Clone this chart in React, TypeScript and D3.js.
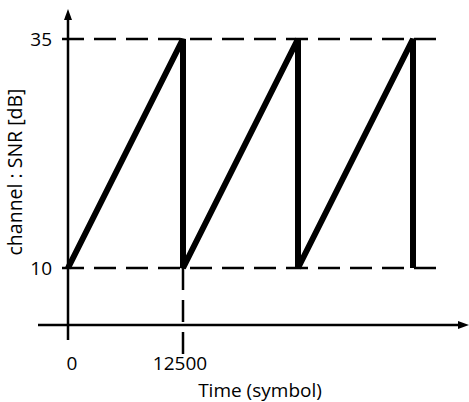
import { useRef, useEffect } from "react";
import * as d3 from "d3";

// sawtooth: time (symbols) vs channel SNR (dB)
const sawTime = [0, 12500, 12500, 25000, 25000, 37500, 37500];
const sawSNR = [10, 35, 10, 35, 10, 35, 10];

const yTicks = [10, 35];
const xTicks = [0, 12500];
const xTickLabels = ["0", "12500"];

const xLabel = "Time (symbol)";
const yLabel = "channel : SNR [dB]";

export default function App() {
  const ref = useRef<SVGSVGElement | null>(null);

  useEffect(() => {
    const svg = d3.select(ref.current);
    svg.selectAll("*").remove();

    const font = "'Open Sans', 'DejaVu Sans', sans-serif";

    const x = d3.scaleLinear().domain([0, 12500]).range([68, 183]);
    const y = d3.scaleLinear().domain([10, 35]).range([268, 39]);

    const x0 = x(0);
    const xAxisY = 325;

    // dashed reference lines
    svg
      .selectAll("line.ref")
      .data(yTicks)
      .enter()
      .append("line")
      .attr("class", "ref")
      .attr("x1", 62)
      .attr("x2", 437)
      .attr("y1", (d) => y(d))
      .attr("y2", (d) => y(d))
      .attr("stroke", "#000")
      .attr("stroke-width", 2.5)
      .attr("stroke-dasharray", "22 10");

    // vertical dashed at 12500
    svg
      .append("line")
      .attr("x1", x(12500))
      .attr("x2", x(12500))
      .attr("y1", y(10))
      .attr("y2", 357)
      .attr("stroke", "#000")
      .attr("stroke-width", 2.5)
      .attr("stroke-dasharray", "22 10");

    // axes
    svg
      .append("line")
      .attr("x1", x0)
      .attr("x2", x0)
      .attr("y1", 340)
      .attr("y2", 16)
      .attr("stroke", "#000")
      .attr("stroke-width", 2.5);
    svg
      .append("path")
      .attr("d", `M${x0},9 L${x0 - 4},20 L${x0 + 4},20 Z`)
      .attr("fill", "#000");

    svg
      .append("line")
      .attr("x1", 38)
      .attr("x2", 462)
      .attr("y1", xAxisY)
      .attr("y2", xAxisY)
      .attr("stroke", "#000")
      .attr("stroke-width", 2.5);
    svg
      .append("path")
      .attr("d", `M469,${xAxisY} L458,${xAxisY - 4} L458,${xAxisY + 4} Z`)
      .attr("fill", "#000");

    // sawtooth
    const pts: [number, number][] = sawTime.map((t, i) => [t, sawSNR[i]]);
    const line = d3
      .line<[number, number]>()
      .x((d) => x(d[0]))
      .y((d) => y(d[1]));
    svg
      .append("path")
      .attr("d", line(pts))
      .attr("fill", "none")
      .attr("stroke", "#000")
      .attr("stroke-width", 6);

    // tick labels
    svg
      .selectAll("text.yt")
      .data(yTicks)
      .enter()
      .append("text")
      .attr("class", "yt")
      .attr("x", 52)
      .attr("y", (d) => y(d) + 6.5)
      .attr("text-anchor", "end")
      .style("font-family", font)
      .style("font-size", "19px")
      .text((d) => String(d));

    svg
      .selectAll("text.xt")
      .data(xTicks)
      .enter()
      .append("text")
      .attr("class", "xt")
      .attr("x", (d, i) => x(d) + (i === 0 ? 4 : -3))
      .attr("y", 370)
      .attr("text-anchor", "middle")
      .style("font-family", font)
      .style("font-size", "19px")
      .text((_, i) => xTickLabels[i]);

    // axis titles
    svg
      .append("text")
      .attr("x", 260)
      .attr("y", 397)
      .attr("text-anchor", "middle")
      .style("font-family", font)
      .style("font-size", "19px")
      .text(xLabel);

    svg
      .append("text")
      .attr("transform", `translate(22,172) rotate(-90)`)
      .attr("text-anchor", "middle")
      .style("font-family", font)
      .style("font-size", "19.5px")
      .text(yLabel);
  }, []);

  return (
    <svg
      ref={ref}
      width={469}
      height={402}
      style={{ position: "absolute", left: 0, top: 0, background: "#fff" }}
    ></svg>
  );
}
